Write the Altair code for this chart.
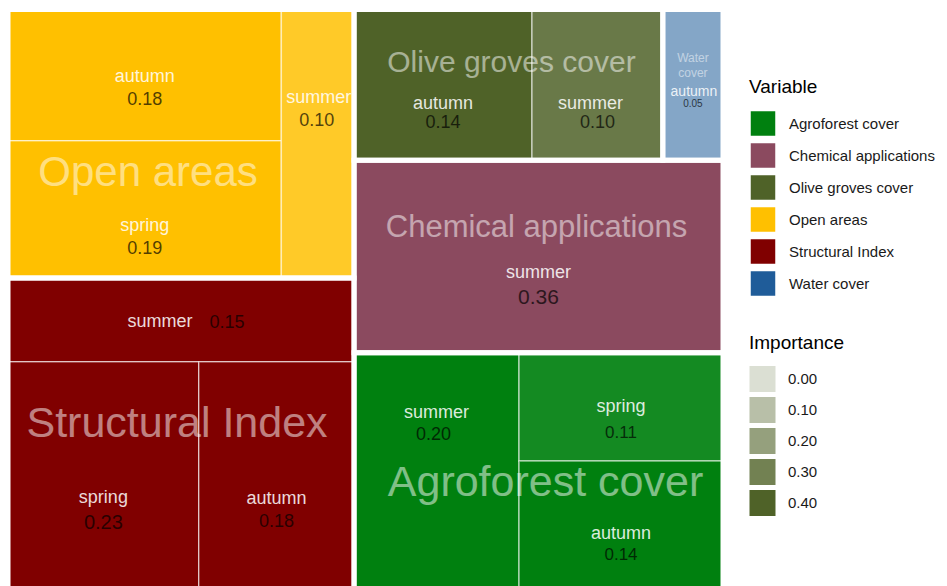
import altair as alt
import pandas as pd

# ---------------- data ----------------
variable = ["Open areas", "Open areas", "Open areas",
            "Structural Index", "Structural Index", "Structural Index",
            "Olive groves cover", "Olive groves cover",
            "Water cover",
            "Chemical applications",
            "Agroforest cover", "Agroforest cover", "Agroforest cover"]
season = ["autumn", "spring", "summer",
          "summer", "spring", "autumn",
          "autumn", "summer",
          "autumn",
          "summer",
          "summer", "spring", "autumn"]
importance = [0.182, 0.190, 0.099,
              0.147, 0.226, 0.184,
              0.136, 0.100,
              0.046,
              0.360,
              0.203, 0.112, 0.139]

legend_vars = ["Agroforest cover", "Chemical applications", "Olive groves cover",
               "Open areas", "Structural Index", "Water cover"]
legend_colors = ["#00800f", "#8b4a5f", "#4f6228", "#ffc000", "#800000", "#1f5c99"]
importance_ticks = [0.0, 0.1, 0.2, 0.3, 0.4]
group_display = {"Water cover": "Water\ncover"}

# ---------------- style (sizes / label nudges in px) ----------------
W_PX, H_PX = 715, 586
FONT = "Liberation Sans, Arial, sans-serif"
OLIVE = "#4f6228"
group_style = {  # fontSize, dx, dy
    "Open areas": (42, -33, 29),
    "Structural Index": (43, -4, -13),
    "Chemical applications": (31, -2, -29),
    "Agroforest cover": (43, 7, 9),
    "Olive groves cover": (30, 3, -22),
    "Water cover": (12, 0, -27),
}
label_style = {  # season fs, sdx, sdy, value fs, vdx, vdy
    ("Open areas", "autumn"): (18, 0, 2, 18, 0, 25),
    ("Open areas", "spring"): (18, 0, 17, 18, 0, 40),
    ("Open areas", "summer"): (18, 1, -46, 18, -1, -23),
    ("Structural Index", "summer"): (18, -21, 2, 18, 46, 3),
    ("Structural Index", "spring"): (18, 0, 19, 20, 0, 44),
    ("Structural Index", "autumn"): (18, 0, 20, 18, 0, 43),
    ("Olive groves cover", "autumn"): (18, 0, 19, 18, 0, 38),
    ("Olive groves cover", "summer"): (18, -7, 19, 18, 0, 38),
    ("Water cover", "autumn"): (14, 1, 7, 10, 0, 19),
    ("Chemical applications", "summer"): (18, 0, 16, 21, 0, 41),
    ("Agroforest cover", "summer"): (18, 0, -61, 18, -3, -39),
    ("Agroforest cover", "spring"): (18, 0, 0, 17, 0, 26),
    ("Agroforest cover", "autumn"): (18, 0, 6, 17, 0, 27),
}


# ---------------- squarified treemap layout (unit square, y up) ----------------
def worst(vals, length):
    s = sum(vals)
    t = s / length
    return max(max(t / (v / t), (v / t) / t) for v in vals)


def squarify(items, x, y, w, h):
    total = sum(v for _, v in items)
    sc = w * h / total
    items = [(k, v * sc) for k, v in items]
    out = {}
    while items:
        vertical = w >= h
        length = h if vertical else w
        row = [items[0]]
        i = 1
        while i < len(items):
            cand = row + [items[i]]
            if worst([v for _, v in cand], length) <= worst([v for _, v in row], length):
                row = cand
                i += 1
            else:
                break
        items = items[i:]
        s = sum(v for _, v in row)
        t = s / length
        pos = 0.0
        for k, v in row:
            l = v / t
            if vertical:
                out[k] = (x, x + t, y + pos, y + pos + l)
            else:
                out[k] = (x + pos, x + pos + l, y, y + t)
            pos += l
        if vertical:
            x += t
            w -= t
        else:
            y += t
            h -= t
    return out


groups = {}
for g, s, v in zip(variable, season, importance):
    groups.setdefault(g, []).append((s, v))
gtot = sorted([(g, sum(v for _, v in it)) for g, it in groups.items()], key=lambda t: -t[1])
glay = squarify(gtot, 0.0, 0.0, 1.0, 1.0)

tiles, glabels = [], []
for g, items in groups.items():
    gx0, gx1, gy0, gy1 = glay[g]
    fs, dx, dy = group_style[g]
    glabels.append(dict(Variable=g, label=group_display.get(g, g), x0=gx0, x1=gx1, y0=gy0, y1=gy1,
                        lx=(gx0 + gx1) / 2 + dx / W_PX, ly=(gy0 + gy1) / 2 - dy / H_PX, fs=fs))
    sub = sorted(items, key=lambda t: -t[1])
    sl = squarify(sub, gx0, gy0, gx1 - gx0, gy1 - gy0)
    for s, v in items:
        x0, x1, y0, y1 = sl[s]
        cx, cy = (x0 + x1) / 2, (y0 + y1) / 2
        sfs, sdx, sdy, vfs, vdx, vdy = label_style[(g, s)]
        tiles.append(dict(Variable=g, season=s, Importance=v, vlabel=f"{v:.2f}",
                          x0=x0, x1=x1, y0=y0, y1=y1, cx=cx, cy=cy,
                          sx=cx + sdx / W_PX, sy=cy - sdy / H_PX, sfs=sfs,
                          vx=cx + vdx / W_PX, vy=cy - vdy / H_PX, vfs=vfs))

tdf = pd.DataFrame(tiles)
gdf = pd.DataFrame(glabels)

xs = alt.Scale(domain=[0, 1], nice=False, zero=False)
ys = alt.Scale(domain=[0, 1], nice=False, zero=False)


def X(f):
    return alt.X(f, type="quantitative", scale=xs, axis=None)


def Y(f):
    return alt.Y(f, type="quantitative", scale=ys, axis=None)


tiles_layer = alt.Chart(tdf).mark_rect(stroke="white", strokeWidth=1.5, strokeOpacity=0.55).encode(
    x=X("x0"), x2="x1", y=Y("y0"), y2="y1",
    color=alt.Color("Variable:N", scale=alt.Scale(domain=legend_vars, range=legend_colors),
                    legend=alt.Legend(title="Variable", orient="none", legendX=741, legendY=68,
                                      symbolType="square", symbolSize=676, rowPadding=0,
                                      titlePadding=13, labelOffset=12)),
    fillOpacity=alt.FillOpacity("Importance:Q",
                                scale=alt.Scale(domain=[0.05, 0.125], range=[0.55, 1], clamp=True),
                                legend=None),
)

opacity_legend_layer = alt.Chart(tdf).mark_point(size=0, filled=True, color=OLIVE, shape="square").encode(
    x=X("cx"), y=Y("cy"),
    opacity=alt.Opacity("Importance:Q", scale=alt.Scale(domain=[0, 0.4], range=[0.2, 1]),
                        legend=alt.Legend(title="Importance", values=importance_ticks, format=".2f",
                                          orient="none", legendX=741, legendY=324,
                                          symbolType="square", symbolSize=676, rowPadding=0,
                                          titlePadding=13, labelOffset=12,
                                          symbolStrokeColor="white", symbolStrokeWidth=1)),
)

borders = alt.Chart(gdf).mark_rect(fill="transparent", stroke="white", strokeWidth=5).encode(
    x=X("x0"), x2="x1", y=Y("y0"), y2="y1")

group_text = alt.Chart(gdf).mark_text(color="white", opacity=0.5, font=FONT, baseline="middle",
                                      align="center", lineBreak="\n", lineHeight=15).encode(
    x=X("lx"), y=Y("ly"), text="label:N", size=alt.Size("fs:Q", scale=None))

season_text = alt.Chart(tdf).mark_text(color="white", opacity=0.85, font=FONT, baseline="middle",
                                       align="center").encode(
    x=X("sx"), y=Y("sy"), text="season:N", size=alt.Size("sfs:Q", scale=None))

value_text = alt.Chart(tdf).mark_text(color="black", opacity=0.68, font=FONT, baseline="middle",
                                      align="center").encode(
    x=X("vx"), y=Y("vy"), text="vlabel:N", size=alt.Size("vfs:Q", scale=None))

chart = alt.layer(tiles_layer, opacity_legend_layer, borders, group_text, season_text, value_text).properties(
    width=W_PX, height=H_PX,
    autosize=alt.AutoSizeParams(type="none"),
    padding={"left": 0, "top": 1.5, "right": 216, "bottom": 0},
    background="white",
).resolve_scale(size="independent").configure_view(stroke=None).configure_legend(
    titleFont=FONT, labelFont=FONT, titleFontSize=19, labelFontSize=15,
    titleFontWeight="normal", titleColor="black", labelColor="#1a1a1a",
    labelLimit=300, padding=0,
)

chart.save("out.html", embed_options={"renderer": "svg", "actions": False})
